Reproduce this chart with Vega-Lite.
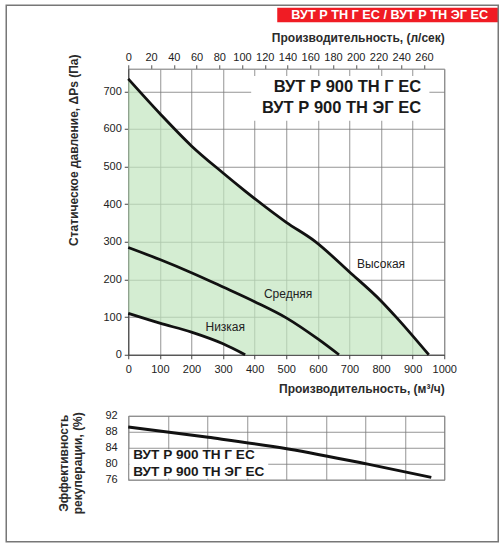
{
  "$schema": "https://vega.github.io/schema/vega-lite/v6.json",
  "autosize": {"type": "pad"},
  "padding": {"left": 4.25, "top": 3.75, "right": 5, "bottom": 7},
  "background": "white",
  "bounds": "flush",
  "spacing": 61,
  "datasets": {
    "band": [
      {"x": 0, "hi": 733, "lo": 110},
      {"x": 100, "hi": 641, "lo": 84},
      {"x": 200, "hi": 555, "lo": 60},
      {"x": 300, "hi": 483, "lo": 29},
      {"x": 370, "hi": 435, "lo": 0},
      {"x": 400, "hi": 415, "lo": 0},
      {"x": 500, "hi": 352, "lo": 0},
      {"x": 590, "hi": 302, "lo": 0},
      {"x": 700, "hi": 220, "lo": 0},
      {"x": 800, "hi": 143, "lo": 0},
      {"x": 850, "hi": 98, "lo": 0},
      {"x": 951, "hi": 0, "lo": 0}
    ],
    "curves": [
      {"s": "Высокая", "x": 0, "y": 733},
      {"s": "Высокая", "x": 100, "y": 641},
      {"s": "Высокая", "x": 200, "y": 555},
      {"s": "Высокая", "x": 300, "y": 483},
      {"s": "Высокая", "x": 370, "y": 435},
      {"s": "Высокая", "x": 400, "y": 415},
      {"s": "Высокая", "x": 500, "y": 352},
      {"s": "Высокая", "x": 590, "y": 302},
      {"s": "Высокая", "x": 700, "y": 220},
      {"s": "Высокая", "x": 800, "y": 143},
      {"s": "Высокая", "x": 850, "y": 98},
      {"s": "Высокая", "x": 951, "y": 0},
      {"s": "Средняя", "x": 0, "y": 285},
      {"s": "Средняя", "x": 100, "y": 253},
      {"s": "Средняя", "x": 200, "y": 218},
      {"s": "Средняя", "x": 300, "y": 180},
      {"s": "Средняя", "x": 400, "y": 141},
      {"s": "Средняя", "x": 500, "y": 98},
      {"s": "Средняя", "x": 600, "y": 42},
      {"s": "Средняя", "x": 667, "y": 0},
      {"s": "Низкая", "x": 0, "y": 110},
      {"s": "Низкая", "x": 100, "y": 84},
      {"s": "Низкая", "x": 200, "y": 60},
      {"s": "Низкая", "x": 300, "y": 29},
      {"s": "Низкая", "x": 370, "y": 0}
    ],
    "eff": [
      {"x": 0, "y": 89.2},
      {"x": 253, "y": 86.6},
      {"x": 506, "y": 83.7},
      {"x": 758, "y": 79.9},
      {"x": 959, "y": 76.6}
    ]
  },
  "vconcat": [
    {
      "width": 316,
      "height": 286,
      "resolve": {"scale": {"x": "independent"}},
      "layer": [
        {
          "resolve": {"axis": {"x": "independent", "y": "independent"}},
          "layer": [
            {
              "data": {"name": "band"},
              "mark": {"type": "area", "interpolate": "monotone", "color": "#c2e6bf", "fillOpacity": 0.7},
              "encoding": {
                "x": {"field": "x", "type": "quantitative", "scale": {"domain": [0, 1000], "nice": false, "zero": false},
                  "axis": {"values": [0, 100, 200, 300, 400, 500, 600, 700, 800, 900, 1000], "format": "d", "grid": true,
                    "domainColor": "#444", "tickColor": "#444", "tickSize": 4,
                    "labelPadding": 5, "labelFlush": false, "labelOverlap": false,
                    "title": "Производительность, (м³/ч)", "titleAnchor": "end", "titlePadding": 9}},
                "y": {"field": "hi", "type": "quantitative", "scale": {"domain": [0, 760], "nice": false, "zero": false},
                  "axis": {"values": [0, 100, 200, 300, 400, 500, 600, 700], "format": "d", "grid": true,
                    "domainColor": "#444", "tickColor": "#444", "tickSize": 4,
                    "labelPadding": 3, "labelOverlap": false,
                    "title": "Статическое давление, ΔPs (Па)",
                    "titleX": -55, "titleY": 81, "titleBaseline": "middle", "titleAlign": "center"}},
                "y2": {"field": "lo"}
              }
            },
            {
              "data": {"values": [{"x": 389, "x2": 953, "y": 741, "y2": 622}]},
              "mark": {"type": "rect", "color": "white"},
              "encoding": {
                "x": {"field": "x", "type": "quantitative", "scale": {"domain": [0, 1000], "nice": false, "zero": false}, "axis": null},
                "x2": {"field": "x2"},
                "y": {"field": "y", "type": "quantitative", "scale": {"domain": [0, 760], "nice": false, "zero": false}, "axis": null},
                "y2": {"field": "y2"}
              }
            },
            {
              "data": {"name": "curves"},
              "mark": {"type": "line", "interpolate": "monotone", "color": "#111", "strokeWidth": 2.8},
              "encoding": {
                "x": {"field": "x", "type": "quantitative", "scale": {"domain": [0, 1000], "nice": false, "zero": false}, "axis": null},
                "y": {"field": "y", "type": "quantitative", "scale": {"domain": [0, 760], "nice": false, "zero": false}, "axis": null},
                "detail": {"field": "s"}
              }
            },
            {
              "data": {"values": [
                {"x": 800, "y": 242, "t": "Высокая"},
                {"x": 506, "y": 162, "t": "Средняя"},
                {"x": 307, "y": 74, "t": "Низкая"}
              ]},
              "mark": {"type": "text", "font": "Liberation Sans", "fontSize": 12, "color": "#222", "align": "center", "baseline": "middle"},
              "encoding": {
                "x": {"field": "x", "type": "quantitative", "scale": {"domain": [0, 1000], "nice": false, "zero": false}, "axis": null},
                "y": {"field": "y", "type": "quantitative", "scale": {"domain": [0, 760], "nice": false, "zero": false}, "axis": null},
                "text": {"field": "t"}
              }
            },
            {
              "data": {"values": [
                {"x": 927, "y": 711, "t": "ВУТ Р 900 ТН Г ЕС"},
                {"x": 927, "y": 657, "t": "ВУТ Р 900 ТН ЭГ ЕС"}
              ]},
              "mark": {"type": "text", "font": "Liberation Sans", "fontSize": 16.5, "fontWeight": "bold", "color": "#1a1a1a", "align": "right", "baseline": "middle"},
              "encoding": {
                "x": {"field": "x", "type": "quantitative", "scale": {"domain": [0, 1000], "nice": false, "zero": false}, "axis": null},
                "y": {"field": "y", "type": "quantitative", "scale": {"domain": [0, 760], "nice": false, "zero": false}, "axis": null},
                "text": {"field": "t"}
              }
            },
            {
              "data": {"values": [{"x": 471.5, "x2": 1170.9, "y": 922, "y2": 883.6}]},
              "mark": {"type": "rect", "color": "#f01c24"},
              "encoding": {
                "x": {"field": "x", "type": "quantitative", "scale": {"domain": [0, 1000], "nice": false, "zero": false}, "axis": null},
                "x2": {"field": "x2"},
                "y": {"field": "y", "type": "quantitative", "scale": {"domain": [0, 760], "nice": false, "zero": false}, "axis": null},
                "y2": {"field": "y2"}
              }
            },
            {
              "data": {"values": [{"x": 827.5, "y": 902.7, "t": "ВУТ Р ТН Г ЕС / ВУТ Р ТН ЭГ ЕС"}]},
              "mark": {"type": "text", "font": "Liberation Sans", "fontSize": 12.7, "fontWeight": "bold", "color": "white", "align": "center", "baseline": "middle"},
              "encoding": {
                "x": {"field": "x", "type": "quantitative", "scale": {"domain": [0, 1000], "nice": false, "zero": false}, "axis": null},
                "y": {"field": "y", "type": "quantitative", "scale": {"domain": [0, 760], "nice": false, "zero": false}, "axis": null},
                "text": {"field": "t"}
              }
            },
            {
              "data": {"values": [{"x": -386.1, "x2": 1170.9, "y": 928.7, "y2": -496.9}]},
              "mark": {"type": "rect", "filled": false, "stroke": "#777", "strokeWidth": 1.5},
              "encoding": {
                "x": {"field": "x", "type": "quantitative", "scale": {"domain": [0, 1000], "nice": false, "zero": false}, "axis": null},
                "x2": {"field": "x2"},
                "y": {"field": "y", "type": "quantitative", "scale": {"domain": [0, 760], "nice": false, "zero": false}, "axis": null},
                "y2": {"field": "y2"}
              }
            }
          ]
        },
        {
          "data": {"values": [{"ls": 0}, {"ls": 277.78}]},
          "mark": {"type": "point", "opacity": 0},
          "encoding": {
            "x": {"field": "ls", "type": "quantitative", "scale": {"domain": [0, 277.78], "nice": false, "zero": false},
              "axis": {"orient": "top", "values": [0, 20, 40, 60, 80, 100, 120, 140, 160, 180, 200, 220, 240, 260], "format": "d", "grid": false,
                "domainColor": "#999", "tickColor": "#555", "tickSize": 4,
                "labelPadding": 2, "labelFlush": false, "labelOverlap": false,
                "title": "Производительность, (л/сек)", "titleAnchor": "end", "titlePadding": 7}}
          }
        }
      ]
    },
    {
      "width": 316,
      "height": 64,
      "resolve": {"axis": {"x": "independent", "y": "independent"}},
      "layer": [
        {
          "data": {"values": [{"x": 4, "x2": 443, "y": 83.6, "y2": 76.3}]},
          "mark": {"type": "rect", "color": "white"},
          "encoding": {
            "x": {"field": "x", "type": "quantitative", "scale": {"domain": [0, 1000], "nice": false, "zero": false},
              "axis": {"values": [0, 125, 250, 375, 500, 625, 750, 875, 1000], "grid": true,
                "labels": false, "ticks": false, "tickSize": 0, "domainColor": "#999", "title": null}},
            "x2": {"field": "x2"},
            "y": {"field": "y", "type": "quantitative", "scale": {"domain": [76, 92], "nice": false, "zero": false},
              "axis": {"values": [76, 80, 84, 88, 92], "format": "d", "grid": true,
                "ticks": false, "tickSize": 0, "domainColor": "#999", "labelPadding": 11, "labelOverlap": false,
                "title": ["Эффективность", "рекуперации, (%)"],
                "titleX": -65, "titleY": 47, "titleBaseline": "middle", "titleAlign": "center", "titleLineHeight": 14}},
            "y2": {"field": "y2"}
          }
        },
        {
          "data": {"name": "eff"},
          "mark": {"type": "line", "interpolate": "monotone", "color": "#111", "strokeWidth": 3},
          "encoding": {
            "x": {"field": "x", "type": "quantitative", "scale": {"domain": [0, 1000], "nice": false, "zero": false}, "axis": null},
            "y": {"field": "y", "type": "quantitative", "scale": {"domain": [76, 92], "nice": false, "zero": false}, "axis": null}
          }
        },
        {
          "data": {"values": [
            {"x": 16, "y": 82.25, "t": "ВУТ Р 900 ТН Г ЕС"},
            {"x": 16, "y": 78, "t": "ВУТ Р 900 ТН ЭГ ЕС"}
          ]},
          "mark": {"type": "text", "font": "Liberation Sans", "fontSize": 13.6, "fontWeight": "bold", "color": "#1a1a1a", "align": "left", "baseline": "middle"},
          "encoding": {
            "x": {"field": "x", "type": "quantitative", "scale": {"domain": [0, 1000], "nice": false, "zero": false}, "axis": null},
            "y": {"field": "y", "type": "quantitative", "scale": {"domain": [76, 92], "nice": false, "zero": false}, "axis": null},
            "text": {"field": "t"}
          }
        }
      ]
    }
  ],
  "config": {
    "view": {"stroke": "#999", "strokeWidth": 1},
    "axis": {
      "gridColor": "#7a7a7a", "gridWidth": 0.8,
      "labelFont": "Liberation Sans", "labelFontSize": 11, "labelColor": "#222",
      "titleFont": "Liberation Sans", "titleFontSize": 12, "titleFontWeight": "bold", "titleColor": "#2b2b2b"
    }
  }
}
